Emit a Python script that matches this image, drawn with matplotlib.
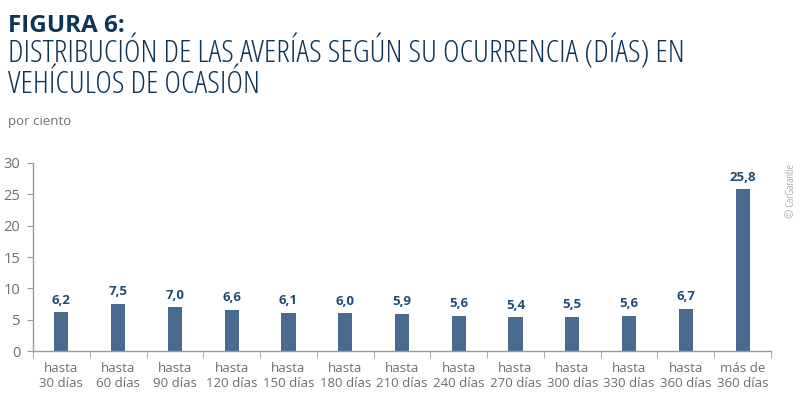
import numpy as np
import matplotlib.pyplot as plt

# data
categories = ["hasta\n30 días", "hasta\n60 días", "hasta\n90 días", "hasta\n120 días",
              "hasta\n150 días", "hasta\n180 días", "hasta\n210 días", "hasta\n240 días",
              "hasta\n270 días", "hasta\n300 días", "hasta\n330 días", "hasta\n360 días",
              "más de\n360 días"]
values = [6.2, 7.5, 7.0, 6.6, 6.1, 6.0, 5.9, 5.6, 5.4, 5.5, 5.6, 6.7, 25.8]
yticks = [0, 5, 10, 15, 20, 25, 30]

bar_col = "#4a6b90"
navy = "#0e3458"
grey = "#6e6e6e"
axis_col = "#9a9a9a"
font = "Open Sans"

fig = plt.figure(figsize=(8, 3.98), dpi=100)
ax = fig.add_axes([0.04125, 0.118, 0.9225, 0.4725])

x = np.arange(len(values))
ax.bar(x, values, width=0.25, color=bar_col)
for xi, v in zip(x, values):
    ax.text(xi, v + 0.9, f"{v:.1f}".replace(".", ","), ha="center", va="bottom",
            fontsize=9.5, fontweight="bold", color="#1f4a75", family=font)

ax.set_xlim(-0.5, len(values) - 0.5)
ax.set_ylim(0, 30)
ax.set_yticks(yticks)
ax.set_yticklabels([str(t) for t in yticks], fontsize=10.5, color=grey, family=font)
ax.set_xticks(x)
ax.set_xticklabels(categories, fontsize=9.5, color=grey, family=font, linespacing=1.2)
ax.tick_params(axis="x", length=0, pad=8)
ax.tick_params(axis="y", length=4, color=axis_col, pad=5)
ax.set_xticks(np.arange(-0.5, len(values)), minor=True)
ax.tick_params(axis="x", which="minor", length=5, color=axis_col, direction="out")

for s in ["top", "right"]:
    ax.spines[s].set_visible(False)
for s in ["left", "bottom"]:
    ax.spines[s].set_color(axis_col)
    ax.spines[s].set_linewidth(1)

fig.text(0.01, 0.92, "FIGURA 6:", fontsize=17.5, fontweight="bold", color=navy,
         family=font, fontstretch="condensed", va="baseline")
fig.text(0.01, 0.842, "DISTRIBUCIÓN DE LAS AVERÍAS SEGÚN SU OCURRENCIA (DÍAS) EN",
         fontsize=23, fontweight="light", color=navy, family=font, fontstretch="condensed",
         va="baseline")
fig.text(0.01, 0.766, "VEHÍCULOS DE OCASIÓN",
         fontsize=23, fontweight="light", color=navy, family=font, fontstretch="condensed",
         va="baseline")
fig.text(0.01, 0.686, "por ciento", fontsize=9.5, color=grey, family=font, va="baseline")
fig.text(0.989, 0.52, "© CarGarantie", fontsize=8, color="#888888", family=font,
         fontstretch="condensed", rotation=90, ha="center", va="center")

plt.savefig("out.png", dpi=100)
